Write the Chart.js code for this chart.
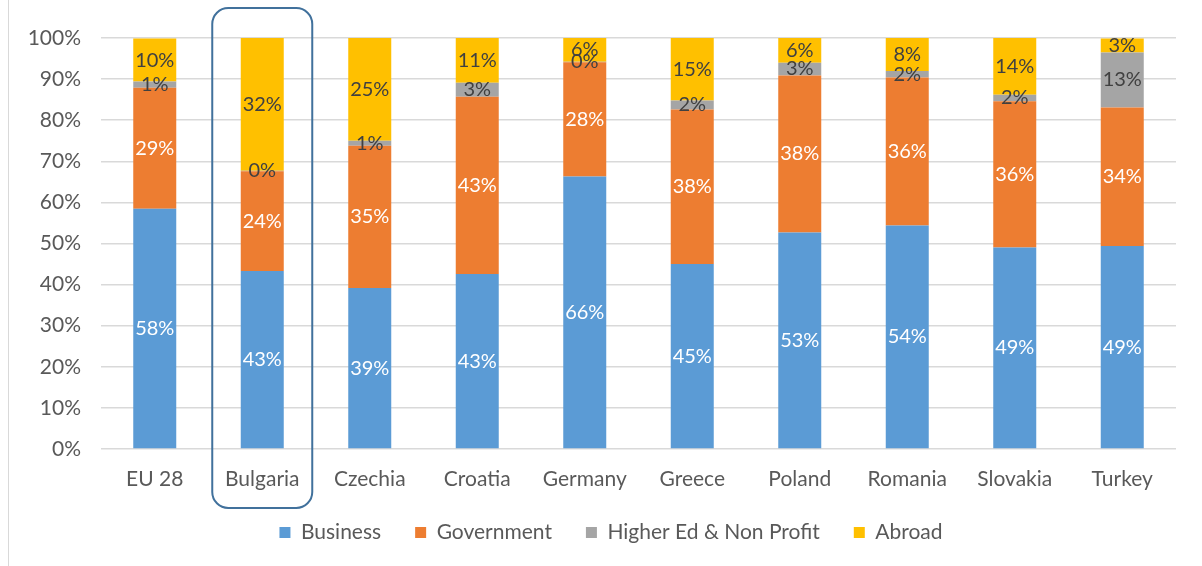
<!DOCTYPE html>
<html>
<head>
<meta charset="utf-8">
<script src="https://cdn.jsdelivr.net/npm/chart.js@4"></script>
<style>
html,body{margin:0;padding:0;background:#fff;}
#wrap{width:1202px;height:566px;position:relative;}
</style>
</head>
<body>
<div id="wrap"><canvas id="c" width="1202" height="566"></canvas></div>
<script>
const categories = ['EU 28','Bulgaria','Czechia','Croatia','Germany','Greece','Poland','Romania','Slovakia','Turkey'];
const business   = [58.45, 43.3, 39.2, 42.6, 66.3, 45.0, 52.7, 54.4, 49.0, 49.4];
const government = [29.45, 24.3, 34.6, 43.1, 27.8, 37.6, 38.2, 36.0, 35.6, 33.7];
const higherEd   = [1.49, 0.1, 1.2, 3.4, 0.1, 2.2, 3.1, 1.6, 1.6, 13.4];
const abroad     = [10.49, 32.3, 25.0, 10.9, 5.8, 15.2, 6.0, 8.0, 13.8, 3.4];
const yTicks = [0,10,20,30,40,50,60,70,80,90,100];
const highlight = 'Bulgaria';

const FONT = 'Lato, Carlito, Calibri, sans-serif';
const labelColors = ['#ffffff','#ffffff','#404040','#404040'];

const bgPlugin = {
  id:'bg',
  beforeDraw(chart){
    const c=chart.ctx; c.save(); c.fillStyle='#fff'; c.fillRect(0,0,chart.width,chart.height);
    c.strokeStyle='#d9d9d9'; c.lineWidth=1; c.beginPath(); c.moveTo(8.5,0); c.lineTo(8.5,chart.height); c.stroke();
    c.restore();
  }
};
const legendShift = {
  id:'legendShift',
  afterLayout(chart){
    const l=chart.legend; if(!l) return;
    l.left+=23; l.right+=23; l.top-=9; l.bottom-=9;
  }
};
const labelPlugin = {
  id:'labels',
  afterDatasetsDraw(chart){
    const c=chart.ctx; c.save();
    c.font = '20px '+FONT; c.textAlign='center'; c.textBaseline='middle';
    chart.data.datasets.forEach((ds,i)=>{
      const meta=chart.getDatasetMeta(i);
      meta.data.forEach((bar,j)=>{
        const v=ds.data[j];
        c.fillStyle=labelColors[i];
        c.fillText(Math.round(v)+'%', bar.x, (bar.y+bar.base)/2);
      });
    });
    c.restore();
  }
};
const boxPlugin = {
  id:'box',
  afterDraw(chart){
    const xs=chart.scales.x; const idx=categories.indexOf(highlight);
    const cx=xs.getPixelForValue(idx); const w=100, top=8, bottom=508, r=16;
    const c=chart.ctx; c.save(); c.strokeStyle='#41719C'; c.lineWidth=2;
    c.beginPath(); c.roundRect(cx-w/2, top, w, bottom-top, r); c.stroke(); c.restore();
  }
};

new Chart(document.getElementById('c'), {
  type:'bar',
  data:{
    labels:categories,
    datasets:[
      {label:'Business', data:business, backgroundColor:'#5B9BD5'},
      {label:'Government', data:government, backgroundColor:'#ED7D31'},
      {label:'Higher Ed & Non Profit', data:higherEd, backgroundColor:'#A5A5A5'},
      {label:'Abroad', data:abroad, backgroundColor:'#FFC000'}
    ]
  },
  options:{
    responsive:false, animation:false,
    layout:{padding:{left:0,right:26,top:38,bottom:4}},
    datasets:{bar:{categoryPercentage:1, barPercentage:0.4}},
    scales:{
      x:{stacked:true, grid:{display:false}, border:{display:false},
         ticks:{color:'#595959', font:{family:FONT,size:21}, padding:10},
         afterFit(s){ s.height=48; }},
      y:{stacked:true, min:0, max:100,
         afterBuildTicks(s){ s.ticks = yTicks.map(v=>({value:v})); },
         ticks:{color:'#595959', font:{family:FONT,size:21}, padding:20, callback:v=>v+'%'},
         grid:{color:'#d9d9d9', lineWidth:1.5, drawTicks:false}, border:{display:false},
         afterFit(s){ s.width=101; }}
    },
    plugins:{
      legend:{position:'bottom', labels:{color:'#595959', font:{family:FONT,size:21}, boxWidth:11, boxHeight:11, padding:34}},
      tooltip:{enabled:false}
    }
  },
  plugins:[bgPlugin,legendShift,labelPlugin,boxPlugin]
});
</script>
</body>
</html>
